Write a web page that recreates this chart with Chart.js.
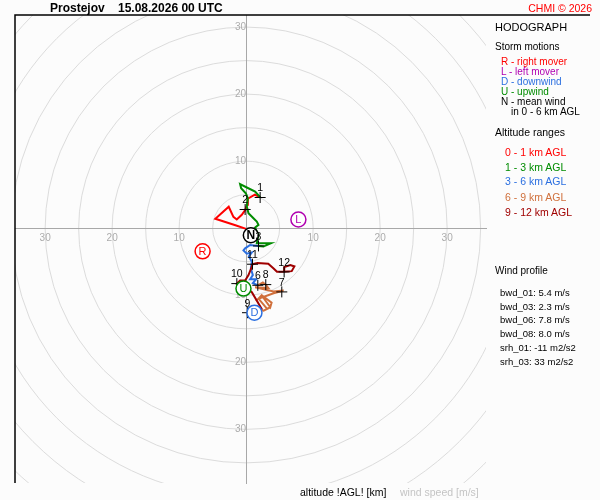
<!DOCTYPE html>
<html>
<head>
<meta charset="utf-8">
<title>Hodograph Prostejov</title>
<script src="https://cdn.jsdelivr.net/npm/chart.js@4.4.1/dist/chart.umd.min.js"></script>
<style>
  body { margin: 0; background: #fcfcfc; font-family: "Liberation Sans", Arial, sans-serif; }
  #wrap { position: relative; width: 600px; height: 500px; overflow: hidden; }
  #hodo { position: absolute; left: 0; top: 0; }
  .t { position: absolute; white-space: pre; line-height: 1; color: #000; }
</style>
</head>
<body>
<div id="wrap">
  <canvas id="hodo" width="600" height="500"></canvas>

  <div class="t" style="left:50px;top:2px;font-size:12px;font-weight:bold">Prostejov</div>
  <div class="t" style="left:118px;top:2px;font-size:12px;font-weight:bold">15.08.2026 00 UTC</div>
  <div class="t" style="right:8px;top:3px;font-size:10.5px;color:#ff0000">CHMI © 2026</div>

  <div class="t" style="left:495px;top:21.5px;font-size:11px">HODOGRAPH</div>
  <div class="t" style="left:495px;top:42px;font-size:10px">Storm motions</div>
  <div class="t" style="left:501px;top:57px;font-size:10px;color:#ff0000">R - right mover</div>
  <div class="t" style="left:501px;top:67px;font-size:10px;color:#b000b0">L - left mover</div>
  <div class="t" style="left:501px;top:77px;font-size:10px;color:#2b6fe0">D - downwind</div>
  <div class="t" style="left:501px;top:87px;font-size:10px;color:#008c00">U - upwind</div>
  <div class="t" style="left:501px;top:97px;font-size:10px">N - mean wind</div>
  <div class="t" style="left:511px;top:107px;font-size:10px">in 0 - 6 km AGL</div>

  <div class="t" style="left:495px;top:127px;font-size:10.5px">Altitude ranges</div>
  <div class="t" style="left:505px;top:147px;font-size:10.5px;color:#ff0000">0 - 1 km AGL</div>
  <div class="t" style="left:505px;top:162px;font-size:10.5px;color:#008c00">1 - 3 km AGL</div>
  <div class="t" style="left:505px;top:176px;font-size:10.5px;color:#2b6fe0">3 - 6 km AGL</div>
  <div class="t" style="left:505px;top:192px;font-size:10.5px;color:#d0703c">6 - 9 km AGL</div>
  <div class="t" style="left:505px;top:207px;font-size:10.5px;color:#a00000">9 - 12 km AGL</div>

  <div class="t" style="left:495px;top:266px;font-size:10px">Wind profile</div>
  <div class="t" style="left:500px;top:288px;font-size:9.5px">bwd_01: 5.4 m/s</div>
  <div class="t" style="left:500px;top:301.5px;font-size:9.5px">bwd_03: 2.3 m/s</div>
  <div class="t" style="left:500px;top:315px;font-size:9.5px">bwd_06: 7.8 m/s</div>
  <div class="t" style="left:500px;top:328.5px;font-size:9.5px">bwd_08: 8.0 m/s</div>
  <div class="t" style="left:500px;top:343px;font-size:9.5px">srh_01: -11 m2/s2</div>
  <div class="t" style="left:500px;top:356.5px;font-size:9.5px">srh_03: 33 m2/s2</div>

  <div class="t" style="left:300px;top:487px;font-size:10.5px">altitude !AGL! [km]</div>
  <div class="t" style="left:400px;top:487px;font-size:10.5px;color:#c4c4c4">wind speed [m/s]</div>
</div>

<script>
// Axis limits and range rings (m/s)
const uMin = -34.5, uMax = 35.8;
const vMin = -38.0, vMax = 31.8;
const tickStep = 10;
const ringSpeeds = [5, 10, 15, 20, 25, 30, 35, 40, 45, 50];

// Hodograph by altitude layer, u / v wind components in m/s
const u0to1 = [0.0, -1.6, -4.6, -2.6, -1.9, -1.4, -0.65, -0.15, 0.15, 0.25, 1.3, 2.1];
const v0to1 = [-0.1, 0.45, 1.4, 3.2, 1.7, 1.3, 2.0, 2.7, 3.5, 4.4, 5.0, 4.6];

const u1to3 = [2.1, 1.34, 0.1, -0.9, -0.75, -0.05, 0.25, 0.1, 0.35, 1.09, 1.59, 1.84, 1.34, 1.6, 1.84, 1.59, 3.7, 2.58, 1.84];
const v1to3 = [4.6, 5.47, 6.07, 6.57, 5.97, 5.22, 4.48, 3.24, 2.24, 1.49, 1.0, 0.5, 0.1, -0.5, -1.0, -2.24, -2.24, -2.74, -2.64];

const u3to6 = [1.84, 0.6, -0.15, -0.4, 0.1, 0.85, 0.4, 0.85, 0.7, 1.0, 0.6, 1.5, 1.0, 1.74];
const v3to6 = [-2.64, -2.5, -3.0, -3.3, -3.8, -3.6, -4.2, -5.0, -6.0, -7.0, -7.6, -7.6, -8.2, -8.51];

const u6to9 = [1.74, 2.5, 2.93, 3.3, 1.34, 4.1, 5.6, 4.1, 1.84, 2.3, 3.6, 3.8, 2.34, 1.84, 3.1, 3.6, 2.6, 1.3, 0.2];
const v6to9 = [-8.51, -8.1, -8.41, -8.9, -8.8, -9.45, -9.3, -9.7, -10.5, -10.0, -11.8, -11.1, -10.0, -10.5, -12.0, -11.8, -12.3, -12.0, -12.6];

const u9to12 = [0.2, 1.4, 2.3, 0.85, -0.2, -1.39, -0.9, -0.15, 0.35, 0.75, 0.95, 1.7, 3.3, 4.1, 4.6, 5.6, 6.8, 7.2, 6.6, 5.7, 5.67];
const v9to12 = [-12.6, -12.3, -12.0, -9.55, -8.7, -8.26, -7.8, -7.8, -7.0, -6.0, -5.37, -5.2, -5.3, -6.0, -6.5, -6.5, -6.4, -5.7, -5.5, -5.8, -6.52];

// Altitude marks (km AGL)
const kmLabels = ['1', '2', '3', '6', '7', '8', '9', '10', '11', '12'];
const kmU = [2.09, -0.15, 1.84, 1.74, 5.32, 2.93, 0.2, -1.39, 0.95, 5.67];
const kmV = [4.58, 2.79, -2.64, -8.51, -9.50, -8.41, -12.6, -8.26, -5.37, -6.52];

// Storm motions: right mover, left mover, downwind, upwind, mean wind
const motionLetters = ['R', 'L', 'D', 'U', 'N'];
const motionU = [-6.5, 7.8, 1.24, -0.4, 0.7];
const motionV = [-3.45, 1.3, -12.6, -9.0, -1.05];

// Styles
const layerColors = ['#ff0000', '#008c00', '#2b6fe0', '#d0703c', '#a00000'];
const motionColors = ['#ff0000', '#b000b0', '#2b6fe0', '#008c00', '#000000'];
const FONT = '"Liberation Sans", Arial, sans-serif';

function toPoints(us, vs) {
    return us.map((u, i) => ({ x: u, y: vs[i] }));
}

const layers = [
    [u0to1, v0to1], [u1to3, v1to3], [u3to6, v3to6], [u6to9, v6to9], [u9to12, v9to12]
];

const datasets = [];

// Storm motion circles (on top)
datasets.push({
    data: toPoints(motionU, motionV),
    pointStyle: 'circle',
    pointRadius: 7.5,
    pointBackgroundColor: '#ffffff',
    pointBorderColor: motionColors,
    pointBorderWidth: 1.5,
    showLine: false,
    order: 0
});

// Altitude crosses
datasets.push({
    data: toPoints(kmU, kmV),
    pointStyle: 'cross',
    pointRadius: 5.5,
    pointBorderColor: '#000000',
    pointBorderWidth: 1,
    showLine: false,
    order: 1
});

// Hodograph layers
layers.forEach(([us, vs], i) => {
    datasets.push({
        data: toPoints(us, vs),
        showLine: true,
        borderColor: layerColors[i],
        borderWidth: 2,
        pointRadius: 0,
        tension: 0,
        order: 2 + (layers.length - i)
    });
});

// Rings, marks text and frame
const hodoDecor = {
    id: 'hodoDecor',
    beforeDraw(chart) {
        const { ctx, chartArea: a, scales: { x, y } } = chart;
        ctx.save();
        ctx.fillStyle = '#fcfcfc';
        ctx.fillRect(0, 0, chart.width, chart.height);
        ctx.beginPath();
        ctx.rect(a.left, a.top, a.right - a.left, a.bottom - a.top);
        ctx.clip();
        ctx.strokeStyle = '#dcdcdc';
        ctx.lineWidth = 1;
        const cx = x.getPixelForValue(0), cy = y.getPixelForValue(0);
        ringSpeeds.forEach(r => {
            ctx.beginPath();
            ctx.ellipse(cx, cy, x.getPixelForValue(r) - cx, cy - y.getPixelForValue(r), 0, 0, Math.PI * 2);
            ctx.stroke();
        });
        ctx.restore();
    },
    afterDatasetsDraw(chart) {
        const ctx = chart.ctx;
        ctx.save();
        ctx.textAlign = 'center';
        ctx.textBaseline = 'middle';

        // altitude numbers above crosses
        ctx.font = '10.5px ' + FONT;
        ctx.fillStyle = '#000000';
        chart.getDatasetMeta(1).data.forEach((pt, i) => {
            ctx.fillText(kmLabels[i], pt.x, pt.y - 9);
        });

        // letters in storm motion circles
        chart.getDatasetMeta(0).data.forEach((pt, i) => {
            ctx.font = (motionLetters[i] === 'N' ? 'bold 12px ' : '11px ') + FONT;
            ctx.fillStyle = motionColors[i];
            ctx.fillText(motionLetters[i], pt.x, pt.y + 0.5);
        });
        ctx.restore();
    },
    afterDraw(chart) {
        const { ctx, chartArea: a } = chart;
        ctx.save();
        ctx.strokeStyle = '#000000';
        ctx.lineWidth = 1.5;
        ctx.beginPath();
        ctx.moveTo(a.left, a.bottom);
        ctx.lineTo(a.left, a.top);
        ctx.lineTo(590, a.top);
        ctx.stroke();
        ctx.restore();
    }
};

const tickLabel = v => (v === 0 ? '' : String(Math.abs(v)));

const axisCommon = {
    type: 'linear',
    grid: { display: false, drawTicks: false },
    border: { display: true, color: '#a8a8a8', width: 1 },
    ticks: {
        stepSize: tickStep,
        includeBounds: false,
        autoSkip: false,
        maxRotation: 0,
        color: '#acacac',
        font: { family: FONT, size: 10 },
        callback: tickLabel
    }
};

new Chart(document.getElementById('hodo').getContext('2d'), {
    type: 'scatter',
    data: { datasets },
    options: {
        responsive: false,
        animation: false,
        layout: { padding: { left: 15, top: 15, right: 114, bottom: 17 } },
        plugins: { legend: { display: false }, tooltip: { enabled: false } },
        scales: {
            x: Object.assign({}, axisCommon, {
                min: uMin, max: uMax,
                position: { y: 0 },
                ticks: Object.assign({}, axisCommon.ticks, { padding: 4 })
            }),
            y: Object.assign({}, axisCommon, {
                min: vMin, max: vMax,
                position: { x: 0 },
                ticks: Object.assign({}, axisCommon.ticks, { padding: 2 })
            })
        }
    },
    plugins: [hodoDecor]
});
</script>
</body>
</html>
